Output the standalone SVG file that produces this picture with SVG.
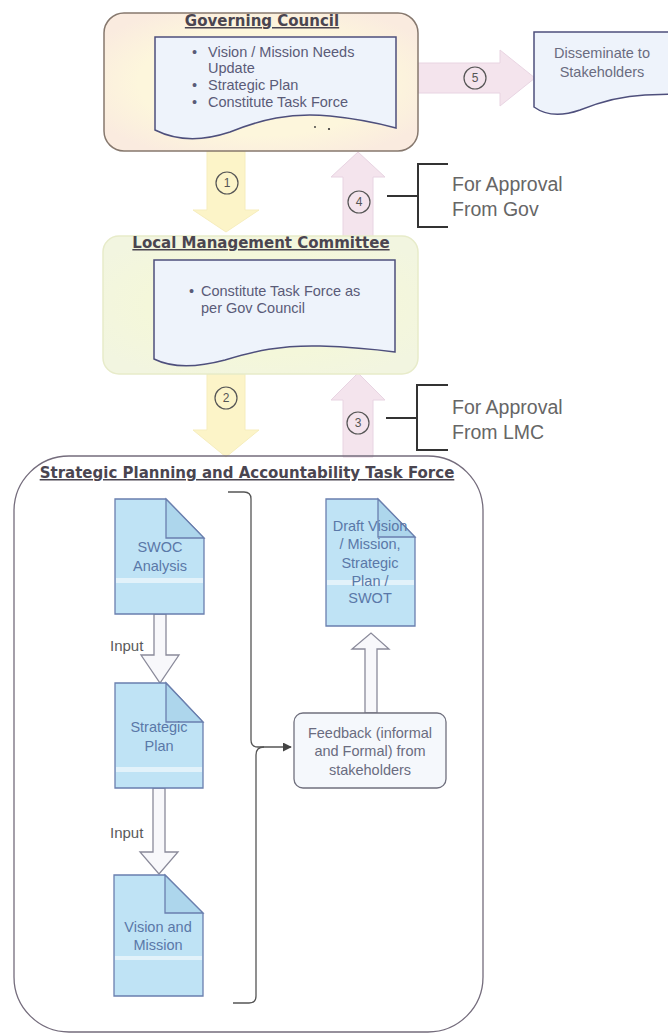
<svg xmlns="http://www.w3.org/2000/svg" width="668" height="1034" viewBox="0 0 668 1034">
<defs>
<style>
.title{font-family:"DejaVu Sans",Verdana,sans-serif;font-weight:bold;font-size:15px;fill:#4a4550;text-decoration:underline;text-anchor:middle}
.body{font-family:"Liberation Sans",Arial,sans-serif;font-size:14.5px;fill:#5a5b78}
.doctext{font-family:"Liberation Sans",Arial,sans-serif;font-size:14.5px;fill:#5a78a8;text-anchor:middle}
.gray{font-family:"Liberation Sans",Arial,sans-serif;font-size:14.5px;fill:#6a6c80;text-anchor:middle}
.appr{font-family:"Liberation Sans",Arial,sans-serif;font-size:19.5px;fill:#666}
.input{font-family:"Liberation Sans",Arial,sans-serif;font-size:15px;fill:#5a5a5a}
.num{font-family:"Liberation Sans",Arial,sans-serif;font-size:12px;fill:#555;text-anchor:middle}
.circ{fill:none;stroke:#555;stroke-width:1.2}
.yarrow{fill:#fcf4c8;stroke:#f6edbd;stroke-width:1}
.parrow{fill:#f4e4ed;stroke:#e8d4e2;stroke-width:1}
.warrow{fill:#f8f8fb;stroke:#8a8a9a;stroke-width:1.3}
.wave{fill:#eef3fb;stroke:#4e4f7c;stroke-width:1.5}
.note{fill:#bfe3f5;stroke:#6a7fae;stroke-width:1.3}
.fold{fill:#add6ec;stroke:#6a7fae;stroke-width:1.3}
.stripe{fill:#e2f2fa}
.brk{fill:none;stroke:#333;stroke-width:2}
.line{fill:none;stroke:#555;stroke-width:1.3}
.dot{fill:#333}
</style>
<radialGradient id="gcg" cx="50%" cy="50%" r="60%">
<stop offset="0.65" stop-color="#fdf6dc"/>
<stop offset="1" stop-color="#faebdf"/>
</radialGradient>
<radialGradient id="lmg" cx="50%" cy="50%" r="60%">
<stop offset="0.6" stop-color="#f4f7da"/>
<stop offset="1" stop-color="#f2f5e0"/>
</radialGradient>
<marker id="ah" viewBox="0 0 10 10" refX="9" refY="5" markerWidth="9" markerHeight="9" orient="auto" markerUnits="userSpaceOnUse">
<path d="M0,0 L10,5 L0,10 Z" fill="#444"/>
</marker>
</defs>
<rect width="668" height="1034" fill="#ffffff"/>

<g id="connectors">
<polygon class="parrow" points="418,63 500,63 500,50 535,78 500,106 500,93 418,93"/>
<circle class="circ" cx="475" cy="78" r="11"/><text class="num" x="475" y="82">5</text>
<polygon class="yarrow" points="207,151 245,151 245,210 259,210 226,232 193,210 207,210"/>
<circle class="circ" cx="227" cy="183" r="11"/><text class="num" x="227" y="187">1</text>
<polygon class="parrow" points="343,237 373,237 373,177 385,177 358,152 331,177 343,177"/>
<circle class="circ" cx="359" cy="202" r="11"/><text class="num" x="359" y="206">4</text>
<polygon class="yarrow" points="207,374 245,374 245,430 259,430 226,457 193,430 207,430"/>
<circle class="circ" cx="226" cy="398" r="11"/><text class="num" x="226" y="402">2</text>
<polygon class="parrow" points="343,457 373,457 373,400 385,400 358,373 331,400 343,400"/>
<circle class="circ" cx="358" cy="423" r="11"/><text class="num" x="358" y="427">3</text>
<polygon class="warrow" points="154,614 166,614 166,655 179,655 160,683 141,655 154,655"/>
<polygon class="warrow" points="153,788 165,788 165,852 178,852 159,874 140,852 153,852"/>
<polygon class="warrow" points="365,713 377,713 377,649 389,649 371,633 352,649 365,649"/>
<path class="line" d="M228,492 H244 Q251,492 251,499 V740 Q251,747 258,747 H291" marker-end="url(#ah)"/>
<path class="line" d="M264,747 Q256,747 256,755 V996 Q256,1003 249,1003 H233"/>
</g>

<g id="governing-council">
<rect x="104" y="13" width="314" height="138" rx="20" fill="url(#gcg)" stroke="#86786e" stroke-width="1.5"/>
<text class="title" x="262" y="26">Governing Council</text>
<path class="wave" d="M155,37 H396 V128 C385,125 360,119 330,116 C290,112 260,120 230,132 C200,142 175,140 155,130 Z"/>
<text class="body" x="192" y="57">•</text><text class="body" x="208" y="57">Vision / Mission Needs</text>
<text class="body" x="208" y="73">Update</text>
<text class="body" x="192" y="90">•</text><text class="body" x="208" y="90">Strategic Plan</text>
<text class="body" x="192" y="107">•</text><text class="body" x="208" y="107">Constitute Task Force</text>
<circle class="dot" cx="315" cy="127" r="0.9"/>
<circle class="dot" cx="329" cy="129" r="1.1"/>
</g>

<g id="disseminate">
<path class="wave" stroke="#5a5a7a" d="M534,32 H680 V94 L645,95 C620,96 600,102 580,110 C560,117 545,115 534,107 Z"/>
<text class="gray" x="602" y="58">Disseminate to</text>
<text class="gray" x="602" y="77">Stakeholders</text>
</g>

<g id="approval-gov">
<path class="brk" d="M387,196 H418 M448,164 H418 V227 H448"/>
<text class="appr" x="452" y="191">For Approval</text>
<text class="appr" x="452" y="216">From Gov</text>
</g>

<g id="local-management-committee">
<rect x="103" y="236" width="315" height="138" rx="16" fill="url(#lmg)" stroke="#e7ebc9" stroke-width="1.5"/>
<text class="title" x="261" y="248">Local Management Committee</text>
<path class="wave" d="M154,260 H395 V352 C380,350 350,347 320,346 C280,345 255,351 225,360 C195,368 172,368 154,359 Z"/>
<text class="body" x="189" y="296">•</text><text class="body" x="201" y="296">Constitute Task Force as</text>
<text class="body" x="201" y="313">per Gov Council</text>
</g>

<g id="approval-lmc">
<path class="brk" d="M386,418 H417 M448,385 H417 V450 H448"/>
<text class="appr" x="452" y="414">For Approval</text>
<text class="appr" x="452" y="439">From LMC</text>
</g>

<g id="task-force">
<rect x="14" y="456" width="469" height="576" rx="55" fill="none" stroke="#746c7c" stroke-width="1.3"/>
<text class="title" x="247" y="478">Strategic Planning and Accountability Task Force</text>
</g>

<g id="swoc">
<path class="note" d="M115,499 H166 L204,538 V614 H115 Z"/>
<rect class="stripe" x="116" y="578" width="87" height="5"/>
<path class="fold" d="M166,499 V538 H204 Z"/>
<text class="doctext" x="160" y="552">SWOC</text>
<text class="doctext" x="160" y="571">Analysis</text>
</g>

<g id="strategic-plan">
<path class="note" d="M115,683 H166 L203,722 V788 H115 Z"/>
<rect class="stripe" x="116" y="767" width="86" height="5"/>
<path class="fold" d="M166,683 V722 H203 Z"/>
<text class="doctext" x="159" y="732">Strategic</text>
<text class="doctext" x="159" y="751">Plan</text>
</g>

<g id="vision-mission">
<path class="note" d="M114,875 H165 L203,913 V996 H114 Z"/>
<rect class="stripe" x="115" y="956" width="87" height="4"/>
<path class="fold" d="M165,875 V913 H203 Z"/>
<text class="doctext" x="158" y="932">Vision and</text>
<text class="doctext" x="158" y="950">Mission</text>
</g>

<g id="draft">
<path class="note" d="M326,499 H378 L415,537 V626 H326 Z"/>
<rect class="stripe" x="327" y="580" width="87" height="5"/>
<path class="fold" d="M378,499 V537 H415 Z"/>
<text class="doctext" x="370" y="531">Draft Vision</text>
<text class="doctext" x="370" y="549">/ Mission,</text>
<text class="doctext" x="370" y="568">Strategic</text>
<text class="doctext" x="370" y="586">Plan /</text>
<text class="doctext" x="370" y="603">SWOT</text>
</g>

<g id="feedback">
<rect x="294" y="713" width="152" height="75" rx="9" fill="#f5f8fc" stroke="#70707e" stroke-width="1.3"/>
<text class="gray" x="370" y="738">Feedback (informal</text>
<text class="gray" x="370" y="756">and Formal) from</text>
<text class="gray" x="370" y="775">stakeholders</text>
</g>

<g id="labels">
<text class="input" x="110" y="651">Input</text>
<text class="input" x="110" y="838">Input</text>
</g>
</svg>
